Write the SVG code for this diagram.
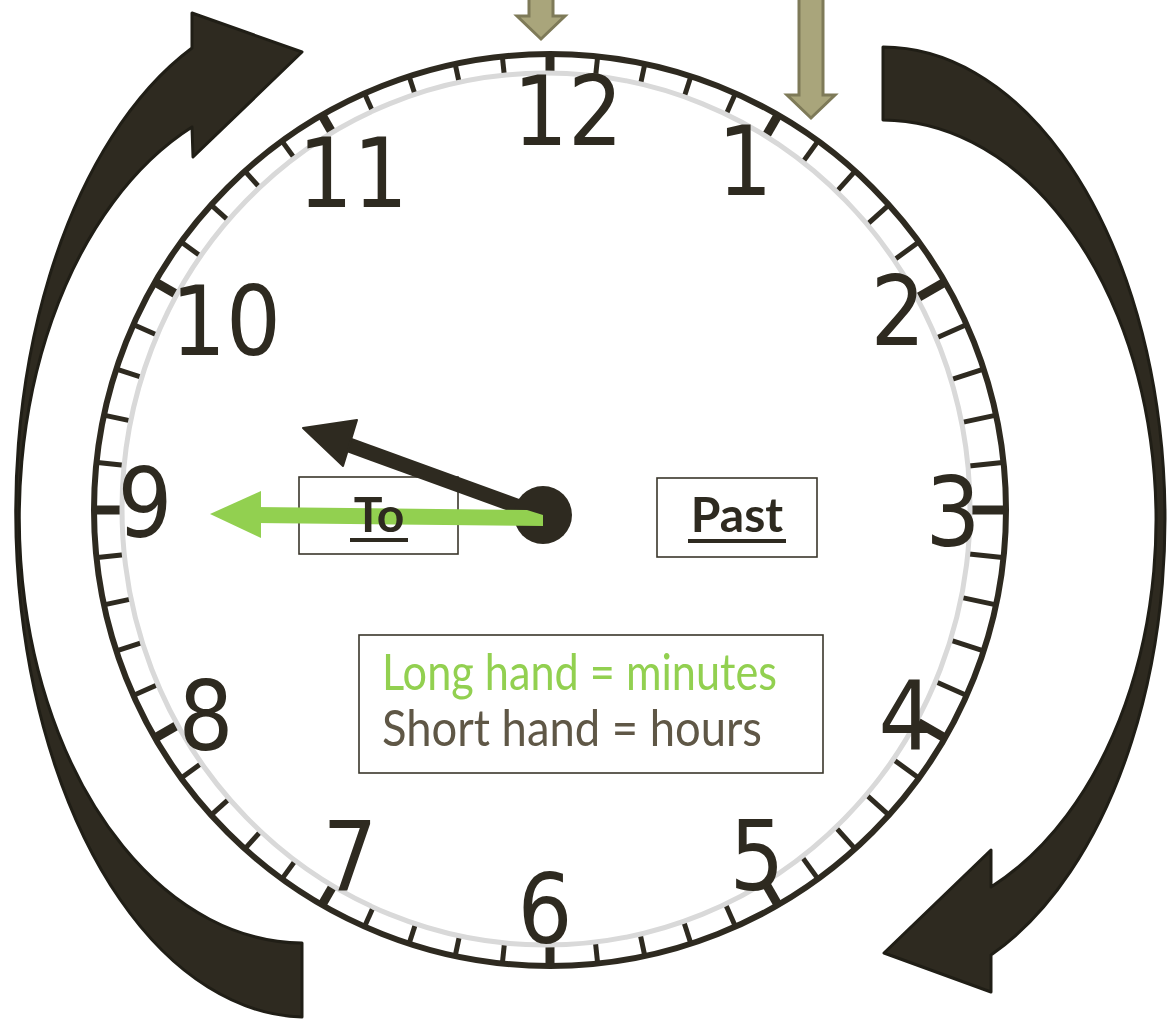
<svg xmlns="http://www.w3.org/2000/svg" width="1173" height="1024" viewBox="0 0 1173 1024">
<style>
.num{font-family:"DejaVu Sans Condensed","DejaVu Sans",sans-serif;font-stretch:condensed;font-size:96px;fill:#2e2a20;text-anchor:middle}
.lbl{font-family:"Comic Sans MS","Lato","Noto Sans",sans-serif;font-weight:bold;font-size:48px;fill:#2e2a20;text-anchor:middle}
.leg{font-family:"Comic Sans MS","Lato","Noto Sans",sans-serif;font-size:50px}
.box{fill:none;stroke:#3a362b;stroke-width:1.6}
.big{fill:#2e2a20;stroke:#201e16;stroke-width:3;stroke-linejoin:round}
.khaki{fill:#a9a57b;stroke:#7e7a58;stroke-width:3}
.tick{stroke:#2e2a20;stroke-width:5}
.tickM{stroke:#2e2a20;stroke-width:9}
</style>
<defs>
<line id="tm" class="tick" x1="550" y1="55" x2="550" y2="115"/>
<line id="tM" class="tickM" x1="550" y1="55" x2="550" y2="115"/>
<mask id="faceMask" maskUnits="userSpaceOnUse" x="0" y="0" width="1173" height="1024">
<rect x="0" y="0" width="1173" height="1024" fill="#fff"/>
<ellipse cx="546" cy="509" rx="423" ry="435" fill="#000"/>
</mask>
</defs>
<rect x="0" y="0" width="1173" height="1024" fill="#fff"/>

<g id="rotation-arrows">
<path id="arrow-left" class="big" d="M 302 1017 A 291 505 0 0 1 192 48 L 192 13 L 302 52 L 193 157 L 192 127 A 284 425 0 0 0 302 943 Z"/>
<path id="arrow-right" class="big" d="M 883 47 A 282 472 0 0 1 991 955 L 991 992 L 884 953 L 991 850 L 991 887 A 274 400 0 0 0 883 120 Z"/>
</g>

<g id="pointer-arrows">
<polygon id="pointer-12" class="khaki" points="529,-5 553,-5 553,16 565,16 541,39 517,16 529,16"/>
<polygon id="pointer-1" class="khaki" points="799,-5 823,-5 823,95 835,95 811,118 787,95 799,95"/>
</g>

<g id="clock-face">
<circle cx="550" cy="510" r="456" fill="#fff" stroke="#2e2a20" stroke-width="6"/>
<g id="ticks" mask="url(#faceMask)">
<use href="#tM" transform="rotate(0 550 510)"/>
<use href="#tm" transform="rotate(6 550 510)"/>
<use href="#tm" transform="rotate(12 550 510)"/>
<use href="#tm" transform="rotate(18 550 510)"/>
<use href="#tm" transform="rotate(24 550 510)"/>
<use href="#tM" transform="rotate(30 550 510)"/>
<use href="#tm" transform="rotate(36 550 510)"/>
<use href="#tm" transform="rotate(42 550 510)"/>
<use href="#tm" transform="rotate(48 550 510)"/>
<use href="#tm" transform="rotate(54 550 510)"/>
<use href="#tM" transform="rotate(60 550 510)"/>
<use href="#tm" transform="rotate(66 550 510)"/>
<use href="#tm" transform="rotate(72 550 510)"/>
<use href="#tm" transform="rotate(78 550 510)"/>
<use href="#tm" transform="rotate(84 550 510)"/>
<use href="#tM" transform="rotate(90 550 510)"/>
<use href="#tm" transform="rotate(96 550 510)"/>
<use href="#tm" transform="rotate(102 550 510)"/>
<use href="#tm" transform="rotate(108 550 510)"/>
<use href="#tm" transform="rotate(114 550 510)"/>
<use href="#tM" transform="rotate(120 550 510)"/>
<use href="#tm" transform="rotate(126 550 510)"/>
<use href="#tm" transform="rotate(132 550 510)"/>
<use href="#tm" transform="rotate(138 550 510)"/>
<use href="#tm" transform="rotate(144 550 510)"/>
<use href="#tM" transform="rotate(150 550 510)"/>
<use href="#tm" transform="rotate(156 550 510)"/>
<use href="#tm" transform="rotate(162 550 510)"/>
<use href="#tm" transform="rotate(168 550 510)"/>
<use href="#tm" transform="rotate(174 550 510)"/>
<use href="#tM" transform="rotate(180 550 510)"/>
<use href="#tm" transform="rotate(186 550 510)"/>
<use href="#tm" transform="rotate(192 550 510)"/>
<use href="#tm" transform="rotate(198 550 510)"/>
<use href="#tm" transform="rotate(204 550 510)"/>
<use href="#tM" transform="rotate(210 550 510)"/>
<use href="#tm" transform="rotate(216 550 510)"/>
<use href="#tm" transform="rotate(222 550 510)"/>
<use href="#tm" transform="rotate(228 550 510)"/>
<use href="#tm" transform="rotate(234 550 510)"/>
<use href="#tM" transform="rotate(240 550 510)"/>
<use href="#tm" transform="rotate(246 550 510)"/>
<use href="#tm" transform="rotate(252 550 510)"/>
<use href="#tm" transform="rotate(258 550 510)"/>
<use href="#tm" transform="rotate(264 550 510)"/>
<use href="#tM" transform="rotate(270 550 510)"/>
<use href="#tm" transform="rotate(276 550 510)"/>
<use href="#tm" transform="rotate(282 550 510)"/>
<use href="#tm" transform="rotate(288 550 510)"/>
<use href="#tm" transform="rotate(294 550 510)"/>
<use href="#tM" transform="rotate(300 550 510)"/>
<use href="#tm" transform="rotate(306 550 510)"/>
<use href="#tm" transform="rotate(312 550 510)"/>
<use href="#tm" transform="rotate(318 550 510)"/>
<use href="#tm" transform="rotate(324 550 510)"/>
<use href="#tM" transform="rotate(330 550 510)"/>
<use href="#tm" transform="rotate(336 550 510)"/>
<use href="#tm" transform="rotate(342 550 510)"/>
<use href="#tm" transform="rotate(348 550 510)"/>
<use href="#tm" transform="rotate(354 550 510)"/>
</g>
<ellipse cx="546" cy="509" rx="424" ry="436" fill="none" stroke="#d9d9d9" stroke-width="5"/>
</g>

<g id="numbers">
<text class="num" x="568" y="145">12</text>
<text class="num" x="745" y="195">1</text>
<text class="num" x="898" y="345">2</text>
<text class="num" x="953" y="546">3</text>
<text class="num" x="906" y="750">4</text>
<text class="num" x="757" y="890">5</text>
<text class="num" x="545" y="943">6</text>
<text class="num" x="350" y="890">7</text>
<text class="num" x="206" y="750">8</text>
<text class="num" x="145" y="537">9</text>
<text class="num" x="226" y="355">10</text>
<text class="num" x="353" y="207">11</text>
</g>

<g id="to-box">
<rect class="box" x="299" y="477" width="159" height="77"/>
</g>

<g id="hands">
<line x1="536" y1="513" x2="330" y2="438" stroke="#2e2a20" stroke-width="15"/>
<polygon points="303,428 357,420 343,466" fill="#2e2a20" stroke="#2e2a20" stroke-width="2" stroke-linejoin="round"/>
<circle cx="543" cy="515" r="29" fill="#2e2a20"/>
<polygon points="255,507 527,510 543,515 543,526 255,523" fill="#92d050"/>
<polygon points="210,514 261,491 261,538" fill="#92d050"/>
</g>

<g id="to-label">
<text class="lbl" x="379" y="532">To</text>
<rect x="350" y="538" width="58" height="4" fill="#2e2a20"/>
</g>

<g id="past-box">
<rect class="box" x="657" y="478" width="160" height="79"/>
<text class="lbl" x="737" y="532">Past</text>
<rect x="688" y="539" width="98" height="4" fill="#2e2a20"/>
</g>

<g id="legend">
<rect class="box" x="359" y="635" width="464" height="138" fill="#fff"/>
<text class="leg" x="382" y="690" fill="#92d050" textLength="395" lengthAdjust="spacingAndGlyphs">Long hand = minutes</text>
<text class="leg" x="382" y="746" fill="#5f5746" textLength="380" lengthAdjust="spacingAndGlyphs">Short hand = hours</text>
</g>
</svg>
